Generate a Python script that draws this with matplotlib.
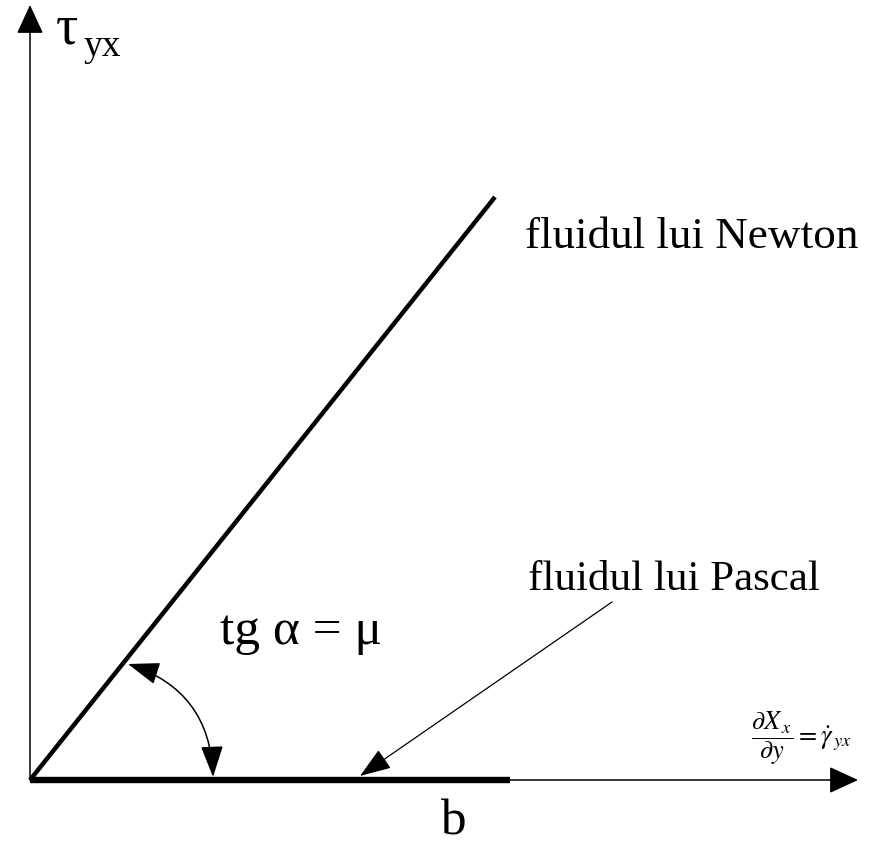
import matplotlib
matplotlib.use('Agg')
import matplotlib.pyplot as plt
from matplotlib.patches import FancyArrowPatch

# data (pixel-like units, origin at the axes crossing)
newton_x = [0, 465]
newton_y = [0, 583]
pascal_x = [0, 480]
pascal_y = [0, 0]
x_axis_end = 828
y_axis_end = 775
pascal_ptr_from = (582, 178)
pascal_ptr_to = (330, 4)
angle_from = (98, 116)
angle_to = (183, 3)

plt.rcParams['font.family'] = ['Liberation Serif', 'DejaVu Serif']
plt.rcParams['mathtext.fontset'] = 'stix'

fig = plt.figure(figsize=(8.77, 8.48), dpi=100)
ax = fig.add_axes([0, 0, 1, 1])
ax.set_xlim(-30, 847)
ax.set_ylim(-68, 780)
ax.axis('off')

# axes with arrow heads
ax.add_patch(FancyArrowPatch((0, 0), (x_axis_end, 0), arrowstyle='-|>,head_length=1.3,head_width=0.6',
                             mutation_scale=14, lw=1.1, color='black', shrinkA=0, shrinkB=0))
ax.add_patch(FancyArrowPatch((0, 0), (0, y_axis_end), arrowstyle='-|>,head_length=1.3,head_width=0.6',
                             mutation_scale=14, lw=1.1, color='black', shrinkA=0, shrinkB=0))

# the two fluids
ax.plot(newton_x, newton_y, color='black', lw=3.2, solid_capstyle='butt')
ax.plot(pascal_x, pascal_y, color='black', lw=4.6, solid_capstyle='butt')

# pointer to Pascal line
ax.add_patch(FancyArrowPatch(pascal_ptr_from, pascal_ptr_to, arrowstyle='-|>,head_length=1.4,head_width=0.5',
                             mutation_scale=14, lw=0.9, color='black', shrinkA=0, shrinkB=0))

# angle arc
ax.add_patch(FancyArrowPatch(angle_from, angle_to, connectionstyle='arc3,rad=-0.35',
                             arrowstyle='<|-|>,head_length=1.4,head_width=0.5',
                             mutation_scale=14, lw=1.1, color='black', shrinkA=0, shrinkB=0))

# labels
ax.text(26, 750, r'τ', fontsize=40, ha='left', va='center')
ax.text(54, 733, 'yx', fontsize=27, ha='left', va='center')
ax.text(495, 543, 'fluidul lui Newton', fontsize=32.5, ha='left', va='center')
ax.text(498, 200, 'fluidul lui Pascal', fontsize=31, ha='left', va='center')
ax.text(190, 148, 'tg α = μ', fontsize=37, ha='left', va='center')
ax.text(423, -42, 'b', fontsize=37, ha='center', va='center')
ax.text(721, 41, r'$\dfrac{\partial X_{\,x}}{\partial y} = \dot{\gamma}_{\,yx}$', fontsize=19,
        ha='left', va='center')

fig.savefig('out.png', dpi=100)
